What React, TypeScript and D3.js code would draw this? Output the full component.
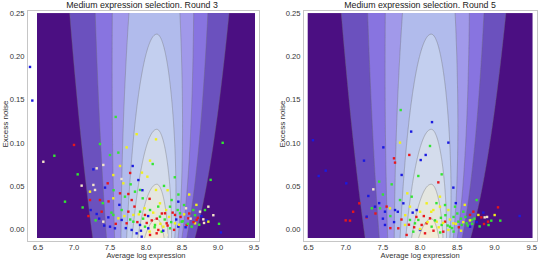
import React from "react";
import * as d3 from "d3";

// ---------- text ----------
const TITLES = ["Medium expression selection. Round 3", "Medium expression selection. Round 5"];
const X_LABEL = "Average log expression";
const Y_LABEL = "Excess noise";
const X_TICKS = [6.5, 7.0, 7.5, 8.0, 8.5, 9.0, 9.5];
const Y_TICKS = [0, 0.05, 0.1, 0.15, 0.2, 0.25];

// ---------- contour surface ----------
const MODE_X = 8.15;
const PEAK_OFFSET = 0.11;
const VAR_LEFT = [0.1526, 0.786];
const VAR_RIGHT = [0.0586, 0.726];
const LEVELS = [0.205, 0.585, 0.965, 1.345, 1.725, 2.105, 2.485, 2.865];
const BAND_COLORS = ["#4b0f82", "#6b51be", "#8874e0", "#a199ea", "#b1bbec", "#c3cfef", "#d4dcec", "#e4e6e0", "#f2ebd6"];

const POINT_COLORS: Record<string, string> = {
  r: "#e8161c", g: "#33e533", b: "#1a1ae0", y: "#f0f01c", p: "#f3e5c8",
};

// ---------- scatter points [x, y, colour] ----------
const ROUND3_POINTS: [number, number, string][] = [
  [6.389, 0.188, "b"], [6.421, 0.149, "b"], [7.579, 0.130, "g"],
  [7.870, 0.110, "y"], [8.139, 0.104, "y"], [6.574, 0.078, "p"], [6.727, 0.085, "g"],
  [9.065, 0.100, "g"], [8.898, 0.057, "g"], [9.014, 0.006, "g"], [8.935, 0.016, "p"],
  [8.843, 0.010, "b"], [8.806, 0.007, "p"], [9.04, -0.004, "b"],
  [7.000, 0.0975, "r"], [7.361, 0.0986, "g"], [7.731, 0.0947, "y"], [7.616, 0.0886, "g"],
  [7.500, 0.0858, "g"], [7.407, 0.0743, "p"], [7.639, 0.0731, "y"], [7.815, 0.0731, "b"],
  [7.269, 0.0692, "b"], [7.315, 0.0704, "p"], [7.051, 0.0634, "g"], [8.019, 0.0607, "y"],
  [7.944, 0.0654, "y"], [8.093, 0.0754, "g"], [8.056, 0.0793, "y"], [7.894, 0.0568, "b"],
  [7.546, 0.0626, "y"], [7.468, 0.0530, "r"], [7.685, 0.0530, "y"], [7.787, 0.0518, "g"],
  [7.106, 0.0503, "p"], [7.269, 0.0511, "p"], [7.431, 0.0480, "b"], [7.292, 0.0453, "p"],
  [7.222, 0.0433, "y"], [8.139, 0.0453, "y"], [7.639, 0.0414, "r"], [7.755, 0.0406, "r"],
  [7.847, 0.0433, "g"], [7.917, 0.0453, "g"], [6.875, 0.0317, "g"], [7.222, 0.0336, "r"],
  [7.361, 0.0336, "r"], [7.546, 0.0356, "y"], [7.708, 0.0375, "g"], [7.801, 0.0336, "r"],
  [7.954, 0.0356, "g"], [8.356, 0.0336, "g"], [8.449, 0.0317, "b"], [8.194, 0.0298, "y"],
  [8.333, 0.0259, "g"], [8.528, 0.0278, "g"], [8.556, 0.0240, "p"], [8.657, 0.0220, "g"],
  [8.750, 0.0201, "p"], [8.819, 0.0220, "g"], [8.866, 0.0259, "p"], [7.231, 0.0220, "b"],
  [7.315, 0.0174, "b"], [7.384, 0.0201, "r"], [7.407, 0.0085, "p"], [7.477, 0.0135, "b"],
  [7.546, 0.0163, "g"], [7.616, 0.0124, "y"], [7.662, 0.0220, "g"], [7.755, 0.0201, "r"],
  [7.824, 0.0163, "y"], [7.917, 0.0201, "g"], [7.986, 0.0163, "r"], [8.056, 0.0220, "g"],
  [8.125, 0.0182, "p"], [8.194, 0.0143, "g"], [8.264, 0.0182, "r"], [8.403, 0.0163, "r"],
  [8.472, 0.0182, "g"], [8.588, 0.0124, "r"], [8.704, 0.0105, "r"], [8.796, 0.0112, "p"],
  [8.866, 0.0085, "y"], [7.662, 0.0105, "b"], [7.731, 0.0066, "r"], [7.824, 0.0085, "g"],
  [7.917, 0.0047, "b"], [7.986, 0.0027, "g"], [8.032, 0.0008, "b"], [8.125, 0.0047, "g"],
  [8.171, -0.0011, "r"], [8.241, 0.0027, "y"], [8.287, 0.0066, "r"], [8.333, 0.0008, "g"],
  [8.403, 0.0066, "y"], [8.449, 0.0027, "b"], [8.495, 0.0085, "g"], [8.565, 0.0047, "r"],
  [8.634, 0.0027, "g"], [8.681, 0.0066, "y"], [7.500, 0.0027, "b"], [7.569, 0.0008, "b"],
  [7.801, -0.0011, "b"], [7.870, -0.0050, "b"], [8.056, -0.0069, "r"], [8.148, -0.0050, "r"],
  [8.218, -0.0031, "g"], [7.940, -0.0089, "b"], [8.287, -0.0069, "p"],
  [7.35, 0.012, "b"], [7.42, 0.004, "b"], [7.52, 0.019, "g"], [7.58, 0.006, "r"], [7.63, 0.028, "b"],
  [7.70, 0.015, "y"], [7.72, 0.001, "b"], [7.78, 0.011, "g"], [7.84, 0.026, "r"], [7.88, 0.008, "r"],
  [7.90, 0.017, "y"], [7.93, -0.002, "b"], [7.96, 0.012, "g"], [7.98, 0.024, "y"], [8.01, 0.007, "r"],
  [8.03, 0.015, "b"], [8.05, -0.003, "y"], [8.08, 0.010, "r"], [8.10, 0.019, "y"], [8.12, 0.002, "g"],
  [8.15, 0.012, "r"], [8.17, 0.026, "g"], [8.20, 0.006, "y"], [8.22, 0.018, "r"], [8.24, -0.002, "b"],
  [8.26, 0.011, "g"], [8.28, 0.022, "y"], [8.30, 0.004, "r"], [8.32, 0.014, "y"], [8.35, 0.008, "g"],
  [8.37, 0.019, "r"], [8.39, -0.001, "r"], [8.42, 0.011, "b"], [8.44, 0.022, "g"], [8.46, 0.005, "y"],
  [8.48, 0.014, "r"], [8.51, 0.009, "g"], [8.53, 0.017, "y"], [8.55, 0.002, "b"], [8.58, 0.006, "g"],
  [8.60, 0.018, "r"], [8.62, 0.012, "p"], [8.66, 0.008, "r"], [8.68, 0.016, "g"], [8.72, 0.013, "r"],
  [8.74, 0.005, "g"], [8.77, 0.015, "b"], [8.70, 0.028, "y"], [8.45, 0.040, "g"], [8.05, 0.035, "r"],
  [7.95, 0.045, "b"], [7.48, 0.032, "r"], [7.40, 0.030, "g"], [7.30, 0.010, "g"], [7.55, 0.045, "g"],
  [7.66, 0.058, "p"], [7.78, 0.065, "r"], [8.25, 0.050, "g"], [8.30, 0.045, "y"], [8.60, 0.040, "y"],
  [8.40, 0.060, "g"], [7.20, 0.015, "r"], [7.12, 0.025, "g"],
];

const ROUND5_POINTS: [number, number, string][] = [
  [7.739, 0.138, "g"], [8.16, 0.124, "b"], [7.88, 0.113, "b"], [6.560, 0.103, "b"],
  [6.637, 0.0615, "b"], [6.731, 0.0677, "b"], [7.008, 0.053, "b"],
  [8.823, 0.0135, "r"], [8.859, 0.0058, "r"], [8.913, 0.0085, "r"], [8.957, 0.0097, "g"],
  [9.047, 0.0251, "r"], [9.002, 0.0162, "y"], [9.078, 0.0097, "g"], [9.338, 0.0151, "b"],
  [8.868, 0.0135, "p"], [8.92, 0.0046, "g"], [8.80, 0.003, "g"], [8.85, 0.019, "b"], [8.90, 0.014, "p"],
  [7.28, 0.0135, "r"],
  [7.506, 0.0947, "b"], [7.730, 0.1002, "y"], [8.133, 0.0963, "g"], [8.380, 0.1002, "b"],
  [7.649, 0.0820, "r"], [7.663, 0.0770, "r"], [7.855, 0.0859, "r"], [8.075, 0.0859, "b"],
  [8.008, 0.0800, "b"], [7.246, 0.0793, "b"], [7.752, 0.0627, "b"], [7.976, 0.0615, "g"],
  [8.290, 0.0634, "g"], [8.245, 0.0541, "r"], [7.618, 0.0518, "g"], [7.371, 0.0460, "p"],
  [7.304, 0.0383, "b"], [7.183, 0.0298, "r"], [7.828, 0.0414, "y"], [7.887, 0.0375, "g"],
  [8.267, 0.0375, "y"], [8.447, 0.0480, "b"], [7.730, 0.0336, "g"], [7.775, 0.0298, "b"],
  [7.394, 0.0259, "b"], [7.461, 0.0240, "g"], [7.528, 0.0201, "b"], [7.595, 0.0240, "y"],
  [7.663, 0.0220, "b"], [7.864, 0.0259, "y"], [7.954, 0.0220, "b"], [8.088, 0.0298, "y"],
  [8.178, 0.0220, "y"], [8.267, 0.0259, "y"], [8.335, 0.0278, "g"], [8.469, 0.0259, "g"],
  [8.581, 0.0201, "g"], [8.671, 0.0163, "r"], [8.716, 0.0201, "r"], [8.783, 0.0163, "y"],
  [8.760, 0.0336, "g"], [7.282, 0.0143, "b"], [7.058, 0.0097, "r"], [7.528, 0.0047, "b"],
  [7.707, 0.0008, "r"], [7.797, 0.0047, "y"], [7.864, 0.0105, "g"], [7.931, 0.0066, "g"],
  [7.976, 0.0105, "g"], [8.021, 0.0047, "r"], [8.088, 0.0066, "r"], [8.133, 0.0124, "r"],
  [8.155, 0.0027, "g"], [8.223, 0.0085, "y"], [8.290, 0.0047, "g"], [8.335, 0.0085, "r"],
  [8.402, 0.0027, "g"], [8.447, 0.0066, "y"], [8.514, 0.0085, "g"], [8.559, 0.0047, "g"],
  [8.626, 0.0066, "g"], [8.671, 0.0027, "b"], [8.693, 0.0105, "g"], [7.909, -0.0031, "g"],
  [7.999, -0.0011, "b"], [8.066, -0.0050, "r"], [8.133, -0.0031, "p"], [7.819, -0.0069, "r"],
  [8.312, -0.0031, "r"], [8.380, -0.0011, "y"],
  [8.20, 0.010, "g"], [8.25, 0.002, "y"], [8.28, 0.013, "g"], [8.31, 0.007, "y"], [8.34, 0.016, "g"],
  [8.37, 0.004, "g"], [8.40, 0.011, "y"], [8.43, 0.001, "g"], [8.45, 0.014, "g"], [8.48, 0.006, "y"],
  [8.50, 0.018, "g"], [8.52, 0.002, "r"], [8.55, 0.012, "g"], [8.58, 0.008, "y"], [8.61, 0.014, "g"],
  [8.64, 0.004, "g"], [8.67, 0.010, "y"], [8.70, 0.006, "g"], [8.73, 0.012, "g"], [8.76, 0.008, "b"],
  [8.10, 0.008, "y"], [8.05, 0.015, "r"], [8.00, 0.020, "y"], [7.95, 0.014, "r"], [7.90, 0.019, "b"],
  [7.85, 0.005, "r"], [7.80, 0.016, "y"], [7.75, 0.011, "r"], [7.70, 0.020, "b"], [7.65, 0.008, "b"],
  [7.60, 0.015, "g"], [7.55, 0.026, "r"], [7.50, 0.012, "b"], [7.45, 0.030, "b"], [7.40, 0.018, "r"],
  [7.35, 0.024, "g"], [8.15, 0.020, "y"], [8.22, 0.030, "g"], [8.38, 0.022, "y"], [8.48, 0.030, "b"],
  [8.60, 0.028, "y"], [8.18, -0.002, "r"], [8.27, -0.004, "g"], [8.45, -0.003, "g"], [8.55, -0.002, "y"],
  [8.00, 0.000, "y"], [7.92, 0.002, "r"], [7.60, 0.001, "r"], [7.50, 0.040, "g"], [7.45, 0.055, "g"],
  [7.10, 0.020, "r"], [7.00, 0.010, "r"],
];

// ---------- layout ----------
const W = 538;
const H = 261;
const FONT = "'Liberation Sans', Arial, Helvetica, sans-serif";
const X_RANGE = [6.486, 9.514];
const Y_RANGE = [-0.0105, 0.2505];
const Y_PX = [229, 13.5];
const FRAME_Y = [10, 241];

const PANELS = [
  { title: TITLES[0], points: ROUND3_POINTS, xPx: [38, 254], frameX: [27, 259], tickRight: 24.5, yLabelX: 8, titleX: 142 },
  { title: TITLES[1], points: ROUND5_POINTS, xPx: [308.5, 531.7], frameX: [303, 537], tickRight: 300.5, yLabelX: 285, titleX: 420 },
];

function surface(x: number, y: number) {
  const v = x < MODE_X ? VAR_LEFT : VAR_RIGHT;
  const s2 = v[0] + v[1] * y;
  const d = x - MODE_X;
  return Math.exp((-d * d) / (2 * s2)) / Math.sqrt(PEAK_OFFSET + y);
}

const NX = 300;
const NY = 260;
const GX = [6.4, 9.6];
const GY = [-0.02, 0.26];

function buildContours() {
  const values = new Array(NX * NY);
  for (let j = 0; j < NY; j++) {
    const y = GY[1] - ((j + 0.5) / NY) * (GY[1] - GY[0]);
    for (let i = 0; i < NX; i++) {
      const x = GX[0] + ((i + 0.5) / NX) * (GX[1] - GX[0]);
      values[j * NX + i] = surface(x, y);
    }
  }
  return d3.contours().size([NX, NY]).thresholds(LEVELS)(values);
}

const CONTOURS = buildContours();

function Panel({ p, idx }: { p: (typeof PANELS)[number]; idx: number }) {
  const xs = d3.scaleLinear().domain([6.5, 9.5]).range(p.xPx);
  const ys = d3.scaleLinear().domain([0, 0.25]).range(Y_PX);
  const proj = d3.geoTransform({
    point(gx: number, gy: number) {
      const x = GX[0] + (gx / NX) * (GX[1] - GX[0]);
      const y = GY[1] - (gy / NY) * (GY[1] - GY[0]);
      (this as any).stream.point(xs(x), ys(y));
    },
  });
  const path = d3.geoPath(proj as any);
  const cx0 = xs(X_RANGE[0]);
  const cx1 = xs(X_RANGE[1]);
  const cy0 = ys(Y_RANGE[1]);
  const cy1 = ys(Y_RANGE[0]);
  const clipId = `clip${idx}`;
  return (
    <g>
      <defs>
        <clipPath id={clipId}>
          <rect x={cx0} y={cy0} width={cx1 - cx0} height={cy1 - cy0} />
        </clipPath>
      </defs>
      <rect x={p.frameX[0] + 0.5} y={FRAME_Y[0] + 0.5} width={p.frameX[1] - p.frameX[0]} height={FRAME_Y[1] - FRAME_Y[0]} fill="#fff" stroke="#c6c6c6" strokeWidth={1} />
      <g clipPath={`url(#${clipId})`}>
        <rect x={cx0} y={cy0} width={cx1 - cx0} height={cy1 - cy0} fill={BAND_COLORS[0]} />
        {CONTOURS.map((c, k) => (
          <path key={`f${k}`} d={path(c as any) || ""} fill={BAND_COLORS[k + 1]} stroke="none" />
        ))}
        {CONTOURS.map((c, k) => (
          <path key={`s${k}`} d={path(c as any) || ""} fill="none" stroke="#6e6e6e" strokeOpacity={0.55} strokeWidth={0.7} />
        ))}
      </g>
      {p.points.map((d, i) => (
        <rect key={i} x={xs(d[0]) - 1.2} y={ys(d[1]) - 1.2} width={2.4} height={2.4} fill={POINT_COLORS[d[2]]} />
      ))}
      {X_TICKS.map((t) => (
        <text key={`xt${t}`} x={xs(t)} y={250} textAnchor="middle" fontSize={7.6} fill="#333" fontFamily={FONT}>
          {t.toFixed(1)}
        </text>
      ))}
      {Y_TICKS.map((t) => (
        <text key={`yt${t}`} x={p.tickRight} y={ys(t) + 2.7} textAnchor="end" fontSize={7.6} fill="#333" fontFamily={FONT}>
          {t.toFixed(2)}
        </text>
      ))}
      <text x={(p.xPx[0] + p.xPx[1]) / 2} y={258} textAnchor="middle" fontSize={7.6} fill="#333" fontFamily={FONT}>
        {X_LABEL}
      </text>
      <text transform={`translate(${p.yLabelX},124) rotate(-90)`} textAnchor="middle" fontSize={8} fill="#333" fontFamily={FONT}>
        {Y_LABEL}
      </text>
      <text x={p.titleX} y={7.5} textAnchor="middle" fontSize={8.8} fill="#222" fontFamily={FONT}>
        {p.title}
      </text>
    </g>
  );
}

export default function App() {
  return (
    <svg width={W} height={H} viewBox={`0 0 ${W} ${H}`} style={{ position: "absolute", left: 0, top: 0, background: "#fff" }}>
      <rect width={W} height={H} fill="#fff" />
      {PANELS.map((p, i) => (
        <Panel key={i} p={p} idx={i} />
      ))}
    </svg>
  );
}
